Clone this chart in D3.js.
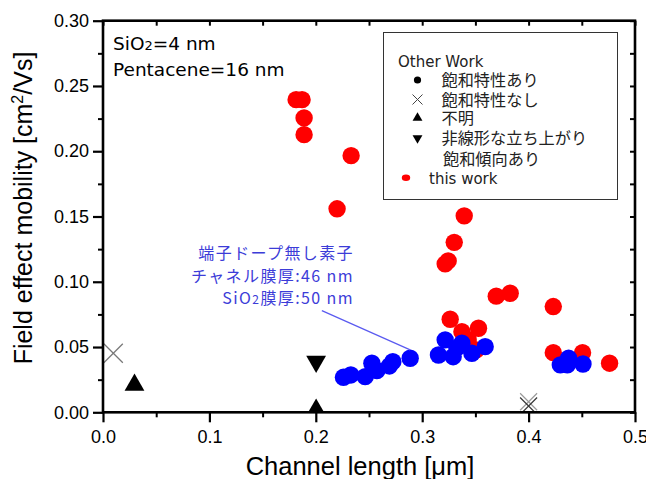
<!DOCTYPE html>
<html>
<head>
<meta charset="utf-8">
<script src="https://cdn.jsdelivr.net/npm/d3@7"></script>
<style>
  html, body { margin: 0; padding: 0; background: #fff; }
  svg { display: block; }
</style>
</head>
<body>
<svg id="chart" width="646" height="479"></svg>
<script>
// Channel length [μm] vs field effect mobility [cm²/Vs]
const thisWorkRedX = [0.1815, 0.1871, 0.189, 0.189, 0.220, 0.2332, 0.3395, 0.3301, 0.3244, 0.3216,
  0.3696, 0.3827, 0.4232, 0.3263, 0.3373, 0.3529, 0.3432, 0.3508, 0.4232, 0.4507, 0.4761];
const thisWorkRedY = [0.2395, 0.2395, 0.2255, 0.2127, 0.1559, 0.1966, 0.1505, 0.1302, 0.1160, 0.1137,
  0.0890, 0.0912, 0.0810, 0.0713, 0.0618, 0.0644, 0.0554, 0.0478, 0.0457, 0.0457, 0.0376];

// devices without terminal doping (channel 46 nm, SiO2 50 nm)
const undopedBlueX = [0.226, 0.2329, 0.2464, 0.2527, 0.2574, 0.2692, 0.2724, 0.2887,
  0.3153, 0.3216, 0.3291, 0.3326, 0.3373, 0.3467, 0.3592,
  0.4298, 0.4376, 0.4364, 0.4511];
const undopedBlueY = [0.0268, 0.0286, 0.0273, 0.0376, 0.0319, 0.0355, 0.0388, 0.0414,
  0.0439, 0.0555, 0.0426, 0.0493, 0.0529, 0.0452, 0.0503,
  0.0363, 0.0414, 0.0363, 0.0370];

// other work
const otherCrossX = [0.0097, 0.4, 0.4];
const otherCrossY = [0.0452, 0.0081, 0.0048];
const otherCrossShade = ["#777", "#999", "#333"];
const otherUpX = [0.0296, 0.2003];
const otherUpY = [0.0221, 0.003];
const otherDownX = [0.2003];
const otherDownY = [0.0378];

const xTicks = [0, 0.1, 0.2, 0.3, 0.4, 0.5];
const xMinor = [0.05, 0.15, 0.25, 0.35, 0.45];
const yTicks = [0, 0.05, 0.10, 0.15, 0.20, 0.25, 0.30];
const yMinor = [0.025, 0.075, 0.125, 0.175, 0.225, 0.275];

const legendLabels = ["飽和特性あり", "飽和特性なし", "不明", "非線形な立ち上がり"];

const svg = d3.select("#chart");
const L = 103, R = 635, T = 20.7, B = 412.3;
const x = d3.scaleLinear().domain([0, 0.5]).range([L, R]);
const y = d3.scaleLinear().domain([0, 0.3]).range([B, T]);

const tickFont = "'Liberation Sans', Arial, sans-serif";
const dejavu = "'DejaVu Sans', Verdana, sans-serif";
const cjk = "'Noto Sans CJK JP', 'Noto Sans', sans-serif";

svg.append("defs").append("clipPath").attr("id", "plotclip")
  .append("rect").attr("x", L).attr("y", T).attr("width", R - L).attr("height", B - T);

// data markers
const plot = svg.append("g").attr("clip-path", "url(#plotclip)");

plot.selectAll("circle.red").data(d3.range(thisWorkRedX.length)).join("circle")
  .attr("class", "red")
  .attr("cx", i => x(thisWorkRedX[i])).attr("cy", i => y(thisWorkRedY[i]))
  .attr("r", 8.7).attr("fill", "#ff0000");

plot.selectAll("circle.blue").data(d3.range(undopedBlueX.length)).join("circle")
  .attr("class", "blue")
  .attr("cx", i => x(undopedBlueX[i])).attr("cy", i => y(undopedBlueY[i]))
  .attr("r", 8.7).attr("fill", "#0000ff");

const tri = d3.symbol().type(d3.symbolTriangle).size(170);
plot.selectAll("path.up").data(d3.range(otherUpX.length)).join("path")
  .attr("class", "up").attr("d", tri)
  .attr("transform", i => `translate(${x(otherUpX[i])},${y(otherUpY[i]) + 1.5})`)
  .attr("fill", "#000");
plot.selectAll("path.down").data(d3.range(otherDownX.length)).join("path")
  .attr("class", "down").attr("d", tri)
  .attr("transform", i => `translate(${x(otherDownX[i])},${y(otherDownY[i]) - 1.5}) rotate(180)`)
  .attr("fill", "#000");

plot.selectAll("g.cross").data(d3.range(otherCrossX.length)).join("g")
  .attr("class", "cross")
  .attr("transform", i => `translate(${x(otherCrossX[i])},${y(otherCrossY[i])})`)
  .each(function (i) {
    const s = i === 0 ? 9.5 : 8.5;
    const g = d3.select(this);
    g.append("line").attr("x1", -s).attr("y1", -s).attr("x2", s).attr("y2", s);
    g.append("line").attr("x1", -s).attr("y1", s).attr("x2", s).attr("y2", -s);
    g.selectAll("line").attr("stroke", otherCrossShade[i]).attr("stroke-width", 1.2);
  });

// axes
function styleAxis(g, w) {
  g.select(".domain").remove();
  g.selectAll(".tick line").attr("stroke", "#000").attr("stroke-width", w);
  g.selectAll(".tick text").attr("font-family", tickFont).attr("font-size", 18).attr("fill", "#000");
}
const fmtY = d3.format(".2f"), fmtX = d3.format(".1f");

svg.append("g").attr("transform", `translate(0,${B})`)
  .call(d3.axisBottom(x).tickValues(xTicks).tickSize(10).tickPadding(8).tickFormat(fmtX))
  .call(g => styleAxis(g, 2.2));
svg.append("g").attr("transform", `translate(0,${B})`)
  .call(d3.axisBottom(x).tickValues(xMinor).tickSize(5).tickFormat(""))
  .call(g => styleAxis(g, 2));
svg.append("g").attr("transform", `translate(${L},0)`)
  .call(d3.axisLeft(y).tickValues(yTicks).tickSize(10).tickPadding(4).tickFormat(fmtY))
  .call(g => styleAxis(g, 2.2));
svg.append("g").attr("transform", `translate(${L},0)`)
  .call(d3.axisLeft(y).tickValues(yMinor).tickSize(5).tickFormat(""))
  .call(g => styleAxis(g, 2));
// inward ticks on the top and right edges
svg.append("g").attr("transform", `translate(0,${T})`)
  .call(d3.axisBottom(x).tickValues(xTicks.concat(xMinor)).tickSize(5).tickFormat(""))
  .call(g => styleAxis(g, 2));
svg.append("g").attr("transform", `translate(${R},0)`)
  .call(d3.axisLeft(y).tickValues(yTicks.concat(yMinor)).tickSize(5).tickFormat(""))
  .call(g => styleAxis(g, 2));

svg.append("rect").attr("x", L).attr("y", T).attr("width", R - L).attr("height", B - T)
  .attr("fill", "none").attr("stroke", "#000").attr("stroke-width", 2.6);

// axis titles
svg.append("text").attr("x", 360).attr("y", 475).attr("text-anchor", "middle")
  .attr("font-family", tickFont).attr("font-size", 25.5).attr("fill", "#000")
  .text("Channel length [μm]");
const yt = svg.append("text").attr("transform", "translate(32,208) rotate(-90)")
  .attr("text-anchor", "middle").attr("font-family", tickFont).attr("font-size", 25).attr("fill", "#000");
yt.append("tspan").text("Field effect mobility [cm");
yt.append("tspan").attr("font-size", 16).attr("dy", -9).text("2");
yt.append("tspan").attr("dy", 9).text("/Vs]");

// sample conditions
const c1 = svg.append("text").attr("x", 113).attr("y", 49.5)
  .attr("font-family", dejavu).attr("font-size", 18.5).attr("fill", "#000");
c1.append("tspan").text("SiO");
c1.append("tspan").attr("font-size", 13).text("2");
c1.append("tspan").text("=4 nm");
svg.append("text").attr("x", 113).attr("y", 75.5)
  .attr("font-family", dejavu).attr("font-size", 18.5).attr("fill", "#000")
  .text("Pentacene=16 nm");

// callout for the undoped devices
const blueText = "#3c3cd8";
const callout = svg.append("g").attr("font-family", cjk).attr("fill", blueText)
  .attr("text-anchor", "end").attr("font-size", 16).attr("letter-spacing", 1.4);
callout.append("text").attr("x", 354).attr("y", 259).text("端子ドープ無し素子");
callout.append("text").attr("x", 354).attr("y", 282).text("チャネル膜厚:46 nm");
const c3 = callout.append("text").attr("x", 354).attr("y", 304);
c3.append("tspan").text("SiO");
c3.append("tspan").attr("font-size", 12).text("2");
c3.append("tspan").text("膜厚:50 nm");
svg.append("line")
  .attr("x1", x(0.2057)).attr("y1", y(0.0779))
  .attr("x2", x(0.2887)).attr("y2", y(0.0478))
  .attr("stroke", "#5a5af0").attr("stroke-width", 1.2);

// legend
const lg = svg.append("g");
lg.append("rect").attr("x", 383.5).attr("y", 32.5).attr("width", 234).attr("height", 167)
  .attr("fill", "#fff").attr("stroke", "#333").attr("stroke-width", 1);
lg.append("text").attr("x", 398).attr("y", 67).attr("font-family", dejavu)
  .attr("font-size", 15).attr("fill", "#222").text("Other Work");
const rowY = [80, 99.5, 118, 138];
lg.selectAll("text.item").data(legendLabels).join("text")
  .attr("class", "item").attr("x", 441.5).attr("y", (d, i) => rowY[i] + 6)
  .attr("font-family", cjk).attr("font-size", 16.2).attr("fill", "#222").text(d => d);
lg.append("text").attr("x", 443).attr("y", 164.5).attr("font-family", cjk)
  .attr("font-size", 16.2).attr("fill", "#222").text("飽和傾向あり");
lg.append("text").attr("x", 429).attr("y", 184).attr("font-family", dejavu)
  .attr("font-size", 15).attr("fill", "#222").text("this work");
const sx = 417.5;
lg.append("circle").attr("cx", sx).attr("cy", rowY[0]).attr("r", 3.6).attr("fill", "#000");
lg.append("path").attr("d", "M-5,-5L5,5M-5,5L5,-5").attr("transform", `translate(${sx},${rowY[1]})`)
  .attr("stroke", "#444").attr("stroke-width", 1);
const ltri = d3.symbol().type(d3.symbolTriangle).size(42);
lg.append("path").attr("d", ltri).attr("transform", `translate(${sx},${rowY[2]})`).attr("fill", "#000");
lg.append("path").attr("d", ltri).attr("transform", `translate(${sx},${rowY[3]}) rotate(180)`).attr("fill", "#000");
lg.append("ellipse").attr("cx", 406).attr("cy", 177.8).attr("rx", 4.2).attr("ry", 3.3).attr("fill", "#ff0000");
</script>
</body>
</html>
